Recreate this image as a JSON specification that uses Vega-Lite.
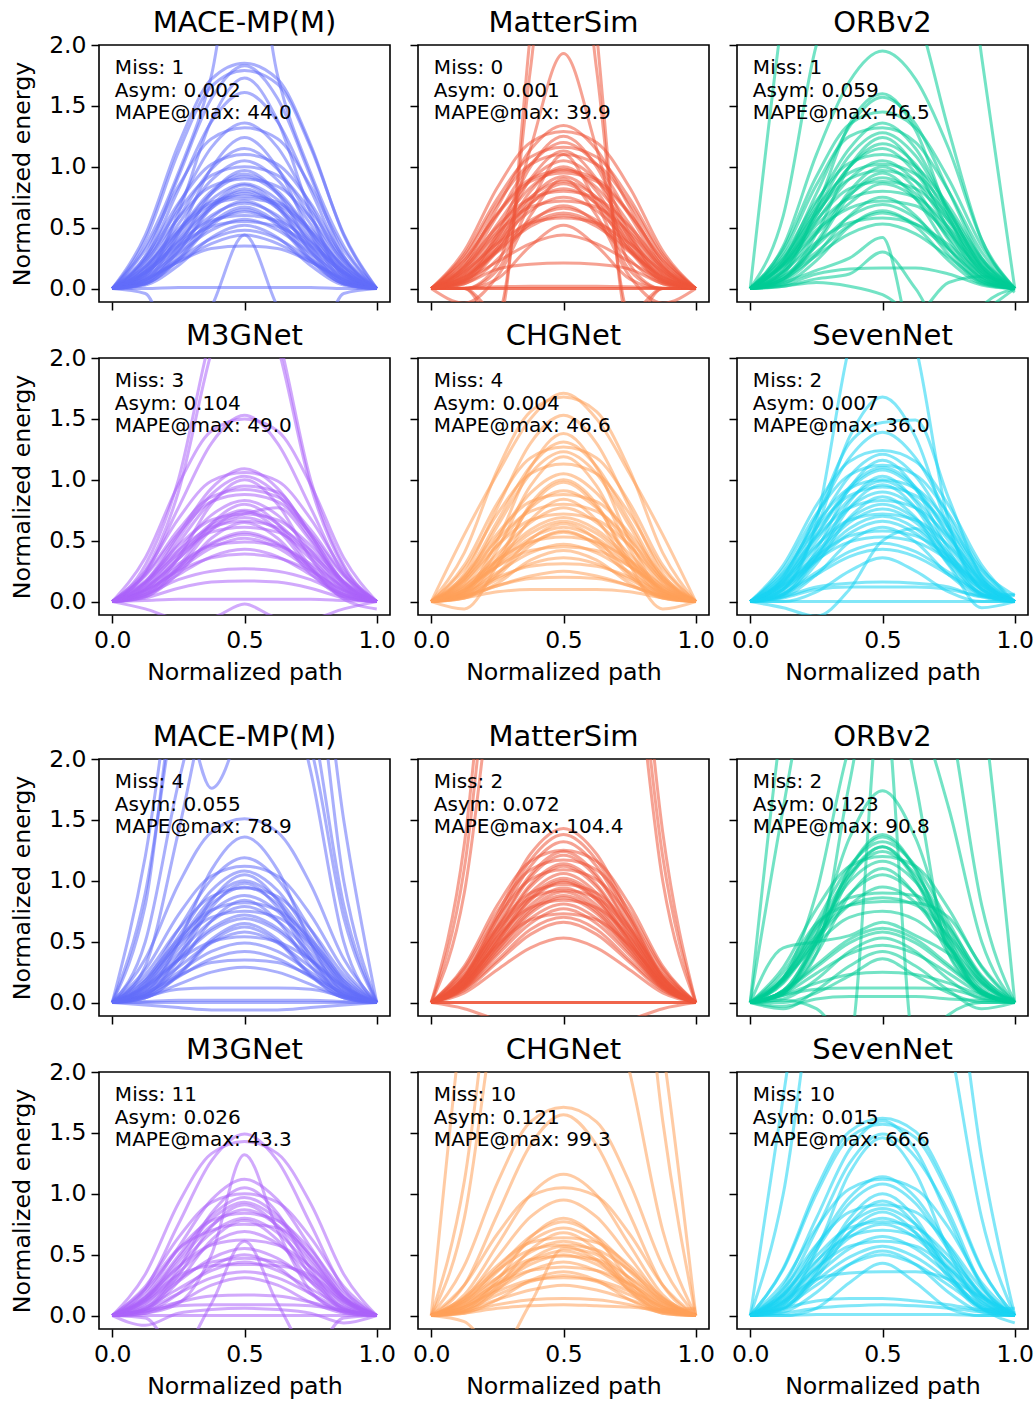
{
"$schema":"https://vega.github.io/schema/vega-lite/v6.json",
"background":"white",
"padding":{"left":9,"top":8,"right":0,"bottom":0},
"datasets":{
"xs":[{"k":"a","x":0},{"k":"b","x":0.125},{"k":"c","x":0.25},{"k":"d","x":0.375},{"k":"e","x":0.5},{"k":"f","x":0.625},{"k":"g","x":0.75},{"k":"h","x":0.875},{"k":"i","x":1}],
"ann":[
{"p":1,"t":"Miss: 1\nAsym: 0.002\nMAPE@max: 44.0"},
{"p":2,"t":"Miss: 0\nAsym: 0.001\nMAPE@max: 39.9"},
{"p":3,"t":"Miss: 1\nAsym: 0.059\nMAPE@max: 46.5"},
{"p":4,"t":"Miss: 3\nAsym: 0.104\nMAPE@max: 49.0"},
{"p":5,"t":"Miss: 4\nAsym: 0.004\nMAPE@max: 46.6"},
{"p":6,"t":"Miss: 2\nAsym: 0.007\nMAPE@max: 36.0"},
{"p":7,"t":"Miss: 4\nAsym: 0.055\nMAPE@max: 78.9"},
{"p":8,"t":"Miss: 2\nAsym: 0.072\nMAPE@max: 104.4"},
{"p":9,"t":"Miss: 2\nAsym: 0.123\nMAPE@max: 90.8"},
{"p":10,"t":"Miss: 11\nAsym: 0.026\nMAPE@max: 43.3"},
{"p":11,"t":"Miss: 10\nAsym: 0.121\nMAPE@max: 99.3"},
{"p":12,"t":"Miss: 10\nAsym: 0.015\nMAPE@max: 66.6"}
],
"curves":[
{"p":1,"id":1,"a":0,"b":0.44,"c":1.18,"d":1.72,"e":1.85,"f":1.72,"g":1.18,"h":0.44,"i":0},
{"p":1,"id":2,"a":0,"b":0.27,"c":0.92,"d":1.56,"e":1.83,"f":1.56,"g":0.92,"h":0.27,"i":0},
{"p":1,"id":3,"a":0,"b":0.40,"c":1.12,"d":1.66,"e":1.79,"f":1.68,"g":1.16,"h":0.45,"i":0},
{"p":1,"id":4,"a":0,"b":0.10,"c":0.62,"d":1.38,"e":1.73,"f":1.38,"g":0.62,"h":0.10,"i":0},
{"p":1,"id":5,"a":0,"b":0.24,"c":0.81,"d":1.37,"e":1.61,"f":1.37,"g":0.81,"h":0.24,"i":0},
{"p":1,"id":6,"a":0,"b":0.20,"c":0.68,"d":1.16,"e":1.36,"f":1.16,"g":0.68,"h":0.20,"i":0},
{"p":1,"id":7,"a":0,"b":0.32,"c":0.84,"d":1.23,"e":1.32,"f":1.23,"g":0.84,"h":0.32,"i":0},
{"p":1,"id":8,"a":0,"b":0.07,"c":0.45,"d":0.99,"e":1.24,"f":0.99,"g":0.45,"h":0.07,"i":0},
{"p":1,"id":9,"a":0,"b":0.16,"c":0.53,"d":0.89,"e":1.05,"f":0.89,"g":0.53,"h":0.16,"i":0},
{"p":1,"id":10,"a":0,"b":0.24,"c":0.64,"d":0.93,"e":1.00,"f":0.93,"g":0.64,"h":0.24,"i":0},
{"p":1,"id":11,"a":0,"b":0.06,"c":0.35,"d":0.78,"e":0.97,"f":0.78,"g":0.35,"h":0.06,"i":0},
{"p":1,"id":12,"a":0,"b":0.14,"c":0.47,"d":0.80,"e":0.94,"f":0.80,"g":0.47,"h":0.14,"i":0},
{"p":1,"id":13,"a":0,"b":0.22,"c":0.58,"d":0.84,"e":0.90,"f":0.84,"g":0.58,"h":0.22,"i":0},
{"p":1,"id":14,"a":0,"b":0.13,"c":0.43,"d":0.73,"e":0.86,"f":0.73,"g":0.43,"h":0.13,"i":0},
{"p":1,"id":15,"a":0,"b":0.05,"c":0.30,"d":0.66,"e":0.82,"f":0.66,"g":0.30,"h":0.05,"i":0},
{"p":1,"id":16,"a":0,"b":0.12,"c":0.39,"d":0.66,"e":0.78,"f":0.66,"g":0.39,"h":0.12,"i":0},
{"p":1,"id":17,"a":0,"b":0.18,"c":0.47,"d":0.69,"e":0.74,"f":0.69,"g":0.47,"h":0.18,"i":0},
{"p":1,"id":18,"a":0,"b":0.11,"c":0.35,"d":0.60,"e":0.70,"f":0.60,"g":0.35,"h":0.11,"i":0},
{"p":1,"id":19,"a":0,"b":0.04,"c":0.24,"d":0.54,"e":0.67,"f":0.54,"g":0.24,"h":0.04,"i":0},
{"p":1,"id":20,"a":0,"b":0.09,"c":0.32,"d":0.54,"e":0.63,"f":0.54,"g":0.32,"h":0.09,"i":0},
{"p":1,"id":21,"a":0,"b":0.14,"c":0.38,"d":0.56,"e":0.60,"f":0.56,"g":0.38,"h":0.14,"i":0},
{"p":1,"id":22,"a":0,"b":0.09,"c":0.29,"d":0.48,"e":0.57,"f":0.48,"g":0.29,"h":0.09,"i":0},
{"p":1,"id":23,"a":0,"b":0.03,"c":0.19,"d":0.42,"e":0.52,"f":0.42,"g":0.19,"h":0.03,"i":0},
{"p":1,"id":24,"a":0,"b":0.07,"c":0.24,"d":0.41,"e":0.48,"f":0.41,"g":0.24,"h":0.07,"i":0},
{"p":1,"id":25,"a":0,"b":0.07,"c":0.22,"d":0.37,"e":0.44,"f":0.37,"g":0.22,"h":0.07,"i":0},
{"p":1,"id":26,"a":0,"b":0.08,"c":0.22,"d":0.33,"e":0.35,"f":0.33,"g":0.22,"h":0.08,"i":0},
{"p":1,"id":27,"a":0,"b":0.00,"c":0.01,"d":0.01,"e":0.01,"f":0.01,"g":0.01,"h":0.00,"i":0},
{"p":1,"id":28,"a":0,"b":0.35,"c":0.95,"d":1.75,"e":3.2,"f":1.75,"g":0.95,"h":0.35,"i":0},
{"p":1,"id":29,"a":0,"b":-0.04,"c":-0.6,"d":-0.15,"e":0.44,"f":-0.15,"g":-0.6,"h":-0.04,"i":0},
{"p":1,"id":30,"a":0,"b":0.12,"c":0.40,"d":0.68,"e":0.80,"f":0.68,"g":0.40,"h":0.12,"i":0},
{"p":1,"id":31,"a":0,"b":0.04,"c":0.26,"d":0.58,"e":0.72,"f":0.58,"g":0.26,"h":0.04,"i":0},
{"p":1,"id":32,"a":0,"b":0.17,"c":0.58,"d":0.98,"e":1.15,"f":0.98,"g":0.58,"h":0.17,"i":0},
{"p":1,"id":33,"a":0,"b":0.14,"c":0.46,"d":0.78,"e":0.92,"f":0.78,"g":0.46,"h":0.14,"i":0},
{"p":1,"id":34,"a":0,"b":0.18,"c":0.49,"d":0.71,"e":0.76,"f":0.71,"g":0.49,"h":0.18,"i":0},
{"p":1,"id":35,"a":0,"b":0.04,"c":0.23,"d":0.52,"e":0.65,"f":0.52,"g":0.23,"h":0.04,"i":0},
{"p":1,"id":36,"a":0,"b":0.13,"c":0.35,"d":0.51,"e":0.55,"f":0.51,"g":0.35,"h":0.13,"i":0},
{"p":1,"id":37,"a":0,"b":0.05,"c":0.31,"d":0.68,"e":0.85,"f":0.68,"g":0.31,"h":0.05,"i":0},
{"p":1,"id":38,"a":0,"b":0.26,"c":0.70,"d":1.02,"e":1.10,"f":1.02,"g":0.70,"h":0.26,"i":0},

{"p":2,"id":1,"a":0,"b":0,"c":-0.3,"d":2.1,"e":5,"f":2.1,"g":-0.3,"h":0,"i":0},
{"p":2,"id":2,"a":0,"b":0,"c":-0.2,"d":1.8,"e":4,"f":1.8,"g":-0.2,"h":0,"i":0},
{"p":2,"id":3,"a":0,"b":0,"c":0.2,"d":1.15,"e":1.93,"f":1.15,"g":0.2,"h":0,"i":0},
{"p":2,"id":4,"a":0,"b":0.20,"c":0.67,"d":1.14,"e":1.34,"f":1.14,"g":0.67,"h":0.20,"i":0},
{"p":2,"id":5,"a":0,"b":0.31,"c":0.83,"d":1.20,"e":1.29,"f":1.20,"g":0.83,"h":0.31,"i":0},
{"p":2,"id":6,"a":0,"b":0.18,"c":0.60,"d":1.02,"e":1.20,"f":1.02,"g":0.60,"h":0.18,"i":0},
{"p":2,"id":7,"a":0,"b":0.07,"c":0.41,"d":0.90,"e":1.13,"f":0.90,"g":0.41,"h":0.07,"i":0},
{"p":2,"id":8,"a":0,"b":0.26,"c":0.70,"d":1.02,"e":1.10,"f":1.02,"g":0.70,"h":0.26,"i":0},
{"p":2,"id":9,"a":0,"b":0,"c":0.15,"d":0.70,"e":1.10,"f":0.70,"g":0.15,"h":0,"i":0},
{"p":2,"id":10,"a":0,"b":0.15,"c":0.49,"d":0.83,"e":0.98,"f":0.83,"g":0.49,"h":0.15,"i":0},
{"p":2,"id":11,"a":0,"b":0.23,"c":0.62,"d":0.90,"e":0.97,"f":0.90,"g":0.62,"h":0.23,"i":0},
{"p":2,"id":12,"a":0,"b":0.13,"c":0.44,"d":0.75,"e":0.88,"f":0.75,"g":0.44,"h":0.13,"i":0},
{"p":2,"id":13,"a":0,"b":0.05,"c":0.31,"d":0.69,"e":0.86,"f":0.69,"g":0.31,"h":0.05,"i":0},
{"p":2,"id":14,"a":0,"b":0.19,"c":0.51,"d":0.74,"e":0.80,"f":0.74,"g":0.51,"h":0.19,"i":0},
{"p":2,"id":15,"a":0,"b":0.11,"c":0.38,"d":0.64,"e":0.75,"f":0.64,"g":0.38,"h":0.11,"i":0},
{"p":2,"id":16,"a":0,"b":0.04,"c":0.24,"d":0.54,"e":0.68,"f":0.54,"g":0.24,"h":0.04,"i":0},
{"p":2,"id":17,"a":0,"b":0.10,"c":0.33,"d":0.56,"e":0.66,"f":0.56,"g":0.33,"h":0.10,"i":0},
{"p":2,"id":18,"a":0,"b":0.14,"c":0.37,"d":0.54,"e":0.58,"f":0.54,"g":0.37,"h":0.14,"i":0},
{"p":2,"id":19,"a":0,"b":0,"c":0.08,"d":0.35,"e":0.52,"f":0.35,"g":0.08,"h":0,"i":0},
{"p":2,"id":20,"a":0,"b":0.07,"c":0.22,"d":0.37,"e":0.44,"f":0.37,"g":0.22,"h":0.07,"i":0},
{"p":2,"id":21,"a":0,"b":0.04,"c":0.16,"d":0.20,"e":0.21,"f":0.20,"g":0.16,"h":0.04,"i":0},
{"p":2,"id":22,"a":0,"b":0.005,"c":0.015,"d":0.02,"e":0.02,"f":0.02,"g":0.015,"h":0.005,"i":0},
{"p":2,"id":23,"a":0,"b":0,"c":0,"d":0,"e":0,"f":0,"g":0,"h":0,"i":0},
{"p":2,"id":24,"a":0,"b":0,"c":0,"d":0,"e":0,"f":0,"g":0,"h":0,"i":0},
{"p":2,"id":25,"a":0,"b":0.16,"c":0.53,"d":0.89,"e":1.05,"f":0.89,"g":0.53,"h":0.16,"i":0},
{"p":2,"id":26,"a":0,"b":0.06,"c":0.33,"d":0.74,"e":0.92,"f":0.74,"g":0.33,"h":0.06,"i":0},
{"p":2,"id":27,"a":0,"b":0.28,"c":0.74,"d":1.08,"e":1.16,"f":1.08,"g":0.74,"h":0.28,"i":0},
{"p":2,"id":28,"a":0,"b":0.09,"c":0.31,"d":0.53,"e":0.62,"f":0.53,"g":0.31,"h":0.09,"i":0},
{"p":2,"id":29,"a":0,"b":-0.12,"c":0.1,"d":0.6,"e":0.9,"f":0.6,"g":0.1,"h":-0.12,"i":0},
{"p":2,"id":30,"a":0,"b":0.06,"c":0.36,"d":0.80,"e":1.0,"f":0.80,"g":0.36,"h":0.06,"i":0},
{"p":2,"id":31,"a":0,"b":0.12,"c":0.41,"d":0.70,"e":0.82,"f":0.70,"g":0.41,"h":0.12,"i":0},
{"p":2,"id":32,"a":0,"b":0.17,"c":0.46,"d":0.67,"e":0.72,"f":0.67,"g":0.46,"h":0.17,"i":0},
{"p":2,"id":33,"a":0,"b":0.08,"c":0.45,"d":1.0,"e":1.25,"f":1.0,"g":0.45,"h":0.08,"i":0},
{"p":2,"id":34,"a":0,"b":0.23,"c":0.61,"d":0.88,"e":0.95,"f":0.88,"g":0.61,"h":0.23,"i":0},
{"p":2,"id":35,"a":0,"b":0.09,"c":0.30,"d":0.51,"e":0.60,"f":0.51,"g":0.30,"h":0.09,"i":0},

{"p":3,"id":1,"a":0,"b":2.3,"c":4,"d":5,"e":5,"f":5,"g":4,"h":1.9,"i":0},
{"p":3,"id":2,"a":0,"b":0.6,"c":2.0,"d":2.6,"e":2.7,"f":2.3,"g":1.3,"h":0.4,"i":0},
{"p":3,"id":3,"a":0,"b":0.35,"c":1.1,"d":1.7,"e":1.95,"f":1.72,"g":1.15,"h":0.4,"i":0},
{"p":3,"id":4,"a":0,"b":0.12,"c":0.65,"d":1.35,"e":1.60,"f":1.30,"g":0.60,"h":0.12,"i":0},
{"p":3,"id":5,"a":0,"b":0.23,"c":0.78,"d":1.33,"e":1.57,"f":1.35,"g":0.80,"h":0.25,"i":0},
{"p":3,"id":6,"a":0,"b":0.22,"c":0.70,"d":1.15,"e":1.36,"f":1.15,"g":0.65,"h":0.18,"i":0},
{"p":3,"id":7,"a":0,"b":0.30,"c":0.85,"d":1.25,"e":1.32,"f":1.20,"g":0.80,"h":0.30,"i":0},
{"p":3,"id":8,"a":0,"b":0.08,"c":0.45,"d":1.0,"e":1.24,"f":1.0,"g":0.48,"h":0.1,"i":0},
{"p":3,"id":9,"a":0,"b":0.20,"c":0.60,"d":1.0,"e":1.19,"f":1.02,"g":0.58,"h":0.16,"i":0},
{"p":3,"id":10,"a":0,"b":0.27,"c":0.72,"d":1.03,"e":1.10,"f":1.0,"g":0.68,"h":0.25,"i":0},
{"p":3,"id":11,"a":0,"b":0.15,"c":0.55,"d":0.90,"e":1.05,"f":0.88,"g":0.50,"h":0.14,"i":0},
{"p":3,"id":12,"a":0,"b":0.08,"c":0.38,"d":0.80,"e":1.00,"f":0.82,"g":0.40,"h":0.08,"i":0},
{"p":3,"id":13,"a":0,"b":0.24,"c":0.62,"d":0.90,"e":0.97,"f":0.88,"g":0.60,"h":0.22,"i":0},
{"p":3,"id":14,"a":0,"b":0.13,"c":0.46,"d":0.77,"e":0.91,"f":0.78,"g":0.47,"h":0.15,"i":0},
{"p":3,"id":15,"a":0,"b":0.18,"c":0.45,"d":0.70,"e":0.86,"f":0.74,"g":0.42,"h":0.12,"i":0},
{"p":3,"id":16,"a":0,"b":0.20,"c":0.52,"d":0.74,"e":0.80,"f":0.75,"g":0.50,"h":0.18,"i":0},
{"p":3,"id":17,"a":0,"b":0.06,"c":0.28,"d":0.60,"e":0.75,"f":0.60,"g":0.28,"h":0.05,"i":0},
{"p":3,"id":18,"a":0,"b":0.10,"c":0.35,"d":0.59,"e":0.69,"f":0.58,"g":0.33,"h":0.09,"i":0},
{"p":3,"id":19,"a":0,"b":0.14,"c":0.38,"d":0.54,"e":0.58,"f":0.53,"g":0.36,"h":0.12,"i":0},
{"p":3,"id":20,"a":0,"b":0.08,"c":0.27,"d":0.45,"e":0.53,"f":0.45,"g":0.26,"h":0.06,"i":0},
{"p":3,"id":21,"a":0,"b":0.05,"c":0.15,"d":0.25,"e":0.42,"f":-0.5,"g":-0.6,"h":-0.15,"i":0},
{"p":3,"id":22,"a":0,"b":0.02,"c":0.08,"d":0.12,"e":0.30,"f":0.0,"g":-0.4,"h":-0.2,"i":0},
{"p":3,"id":23,"a":0,"b":0.03,"c":0.12,"d":0.16,"e":0.17,"f":0.17,"g":0.12,"h":0.03,"i":0},
{"p":3,"id":24,"a":0,"b":0.02,"c":0.05,"d":0.02,"e":-0.05,"f":-0.2,"g":0.05,"h":0.1,"i":0},
{"p":3,"id":25,"a":0,"b":0.19,"c":0.64,"d":1.09,"e":1.28,"f":1.09,"g":0.64,"h":0.19,"i":0},
{"p":3,"id":26,"a":0,"b":0.04,"c":0.23,"d":0.51,"e":0.64,"f":0.51,"g":0.23,"h":0.04,"i":0},
{"p":3,"id":27,"a":0,"b":0.21,"c":0.56,"d":0.82,"e":0.88,"f":0.82,"g":0.56,"h":0.21,"i":-0.03},
{"p":3,"id":28,"a":0,"b":0.15,"c":0.60,"d":1.0,"e":1.15,"f":0.95,"g":0.55,"h":0.18,"i":0},
{"p":3,"id":29,"a":0,"b":0.07,"c":0.36,"d":0.76,"e":0.95,"f":0.74,"g":0.33,"h":0.06,"i":0},
{"p":3,"id":30,"a":0,"b":0.19,"c":0.48,"d":0.66,"e":0.72,"f":0.68,"g":0.45,"h":0.15,"i":0},
{"p":3,"id":31,"a":0,"b":0.33,"c":0.92,"d":1.35,"e":1.45,"f":1.32,"g":0.90,"h":0.35,"i":0},
{"p":3,"id":32,"a":0,"b":0.10,"c":0.30,"d":0.52,"e":0.62,"f":0.53,"g":0.32,"h":0.08,"i":0},
{"p":3,"id":33,"a":0,"b":0.25,"c":0.66,"d":0.95,"e":1.02,"f":0.94,"g":0.64,"h":0.24,"i":0},

{"p":4,"id":1,"a":0,"b":0.30,"c":1.0,"d":2.2,"e":2.9,"f":2.2,"g":1.0,"h":0.30,"i":0},
{"p":4,"id":2,"a":0,"b":0.25,"c":0.9,"d":2.05,"e":2.8,"f":2.1,"g":0.95,"h":0.28,"i":0},
{"p":4,"id":3,"a":0,"b":0.23,"c":0.77,"d":1.30,"e":1.53,"f":1.30,"g":0.77,"h":0.23,"i":0},
{"p":4,"id":4,"a":0,"b":0.36,"c":0.96,"d":1.40,"e":1.50,"f":1.40,"g":0.96,"h":0.36,"i":0},
{"p":4,"id":5,"a":0,"b":0.16,"c":0.55,"d":0.93,"e":1.09,"f":0.93,"g":0.55,"h":0.16,"i":0},
{"p":4,"id":6,"a":0,"b":0.25,"c":0.68,"d":0.99,"e":1.06,"f":0.99,"g":0.68,"h":0.25,"i":0},
{"p":4,"id":7,"a":0,"b":0.14,"c":0.48,"d":0.82,"e":0.95,"f":0.90,"g":0.55,"h":0.16,"i":0},
{"p":4,"id":8,"a":0,"b":0.22,"c":0.59,"d":0.86,"e":0.92,"f":0.86,"g":0.59,"h":0.22,"i":0},
{"p":4,"id":9,"a":0,"b":0.10,"c":0.35,"d":0.62,"e":0.72,"f":0.77,"g":0.50,"h":0.14,"i":0},
{"p":4,"id":10,"a":0,"b":0.11,"c":0.38,"d":0.64,"e":0.75,"f":0.64,"g":0.38,"h":0.11,"i":0},
{"p":4,"id":11,"a":0,"b":0.04,"c":0.27,"d":0.59,"e":0.74,"f":0.59,"g":0.27,"h":0.04,"i":0},
{"p":4,"id":12,"a":0,"b":0.17,"c":0.46,"d":0.67,"e":0.72,"f":0.67,"g":0.46,"h":0.17,"i":0},
{"p":4,"id":13,"a":0,"b":0.10,"c":0.35,"d":0.59,"e":0.69,"f":0.59,"g":0.35,"h":0.10,"i":0},
{"p":4,"id":14,"a":0,"b":0.15,"c":0.39,"d":0.57,"e":0.61,"f":0.57,"g":0.39,"h":0.15,"i":0},
{"p":4,"id":15,"a":0,"b":0.09,"c":0.29,"d":0.48,"e":0.57,"f":0.48,"g":0.29,"h":0.09,"i":0},
{"p":4,"id":16,"a":0,"b":0.12,"c":0.31,"d":0.46,"e":0.49,"f":0.46,"g":0.31,"h":0.12,"i":0},
{"p":4,"id":17,"a":0,"b":0.06,"c":0.22,"d":0.37,"e":0.43,"f":0.37,"g":0.22,"h":0.06,"i":0},
{"p":4,"id":18,"a":0,"b":0.09,"c":0.25,"d":0.36,"e":0.39,"f":0.36,"g":0.25,"h":0.09,"i":0},
{"p":4,"id":19,"a":0,"b":0.06,"c":0.18,"d":0.25,"e":0.27,"f":0.25,"g":0.18,"h":0.06,"i":0},
{"p":4,"id":20,"a":0,"b":0.03,"c":0.11,"d":0.16,"e":0.17,"f":0.16,"g":0.11,"h":0.03,"i":0},
{"p":4,"id":21,"a":0,"b":0.01,"c":0.02,"d":0.02,"e":0.02,"f":0.02,"g":0.02,"h":0.01,"i":0},
{"p":4,"id":22,"a":0,"b":-0.06,"c":-0.14,"d":-0.13,"e":-0.02,"f":-0.13,"g":-0.14,"h":-0.06,"i":0},
{"p":4,"id":23,"a":0,"b":0.12,"c":0.42,"d":0.71,"e":0.83,"f":0.71,"g":0.42,"h":0.12,"i":0},
{"p":4,"id":24,"a":0,"b":0.04,"c":0.23,"d":0.52,"e":0.65,"f":0.52,"g":0.23,"h":0.04,"i":0},
{"p":4,"id":25,"a":0,"b":0.06,"c":0.36,"d":0.80,"e":1.0,"f":0.8,"g":0.36,"h":0.06,"i":0},
{"p":4,"id":26,"a":0,"b":0.08,"c":0.27,"d":0.47,"e":0.55,"f":0.47,"g":0.27,"h":0.02,"i":-0.06},
{"p":4,"id":27,"a":0,"b":0.05,"c":0.29,"d":0.64,"e":0.80,"f":0.64,"g":0.29,"h":0.05,"i":0},
{"p":4,"id":28,"a":0,"b":0.16,"c":0.42,"d":0.61,"e":0.66,"f":0.61,"g":0.42,"h":0.16,"i":0},
{"p":4,"id":29,"a":0,"b":0.08,"c":0.26,"d":0.44,"e":0.52,"f":0.44,"g":0.26,"h":0.08,"i":0},
{"p":4,"id":30,"a":0,"b":0.15,"c":0.52,"d":0.88,"e":1.03,"f":0.88,"g":0.52,"h":0.15,"i":0},
{"p":4,"id":31,"a":0,"b":0.21,"c":0.56,"d":0.82,"e":0.88,"f":0.82,"g":0.56,"h":0.21,"i":0},

{"p":5,"id":1,"a":0,"b":0.55,"c":1.05,"d":1.50,"e":1.71,"f":1.50,"g":1.05,"h":0.55,"i":0},
{"p":5,"id":2,"a":0,"b":0.40,"c":1.08,"d":1.56,"e":1.68,"f":1.56,"g":1.08,"h":0.40,"i":0},
{"p":5,"id":3,"a":0,"b":0.23,"c":0.77,"d":1.30,"e":1.53,"f":1.30,"g":0.77,"h":0.23,"i":0},
{"p":5,"id":4,"a":0,"b":0.08,"c":0.50,"d":1.10,"e":1.38,"f":1.10,"g":0.50,"h":0.08,"i":0},
{"p":5,"id":5,"a":0,"b":0.20,"c":0.66,"d":1.11,"e":1.31,"f":1.11,"g":0.66,"h":0.20,"i":0},
{"p":5,"id":6,"a":0,"b":0.30,"c":0.81,"d":1.18,"e":1.27,"f":1.18,"g":0.81,"h":0.30,"i":0},
{"p":5,"id":7,"a":0,"b":0.18,"c":0.62,"d":1.05,"e":1.23,"f":1.05,"g":0.62,"h":0.18,"i":0},
{"p":5,"id":8,"a":0,"b":0.07,"c":0.43,"d":0.95,"e":1.19,"f":0.95,"g":0.43,"h":0.07,"i":0},
{"p":5,"id":9,"a":0,"b":0.27,"c":0.72,"d":1.05,"e":1.13,"f":1.05,"g":0.72,"h":0.27,"i":0},
{"p":5,"id":10,"a":0,"b":0.14,"c":0.46,"d":0.77,"e":0.91,"f":0.77,"g":0.46,"h":0.14,"i":0},
{"p":5,"id":11,"a":0,"b":0.21,"c":0.56,"d":0.82,"e":0.88,"f":0.82,"g":0.56,"h":0.21,"i":0},
{"p":5,"id":12,"a":0,"b":0.05,"c":0.30,"d":0.67,"e":0.84,"f":0.67,"g":0.30,"h":0.05,"i":0},
{"p":5,"id":13,"a":0,"b":0.12,"c":0.39,"d":0.65,"e":0.77,"f":0.65,"g":0.39,"h":0.12,"i":0},
{"p":5,"id":14,"a":0,"b":0.17,"c":0.46,"d":0.67,"e":0.72,"f":0.67,"g":0.46,"h":0.17,"i":0},
{"p":5,"id":15,"a":0,"b":0.10,"c":0.35,"d":0.59,"e":0.69,"f":0.59,"g":0.35,"h":0.10,"i":0},
{"p":5,"id":16,"a":0,"b":0.04,"c":0.23,"d":0.51,"e":0.64,"f":0.51,"g":0.23,"h":0.04,"i":0},
{"p":5,"id":17,"a":0,"b":0.09,"c":0.29,"d":0.48,"e":0.57,"f":0.48,"g":0.29,"h":0.09,"i":0},
{"p":5,"id":18,"a":0,"b":0.13,"c":0.34,"d":0.49,"e":0.53,"f":0.49,"g":0.34,"h":0.13,"i":0},
{"p":5,"id":19,"a":0,"b":0.07,"c":0.24,"d":0.40,"e":0.47,"f":0.40,"g":0.24,"h":0.07,"i":0},
{"p":5,"id":20,"a":0,"b":0.03,"c":0.15,"d":0.34,"e":0.42,"f":0.34,"g":0.15,"h":0.03,"i":0},
{"p":5,"id":21,"a":0,"b":0.05,"c":0.18,"d":0.31,"e":0.36,"f":0.31,"g":0.18,"h":0.05,"i":0},
{"p":5,"id":22,"a":0,"b":0.07,"c":0.20,"d":0.29,"e":0.31,"f":0.29,"g":0.20,"h":0.07,"i":0},
{"p":5,"id":23,"a":0,"b":0.04,"c":0.13,"d":0.21,"e":0.25,"f":0.21,"g":0.13,"h":0.04,"i":0},
{"p":5,"id":24,"a":0,"b":0.05,"c":0.13,"d":0.19,"e":0.20,"f":0.19,"g":0.13,"h":0.05,"i":0},
{"p":5,"id":25,"a":0,"b":0.03,"c":0.08,"d":0.10,"e":0.10,"f":0.10,"g":0.08,"h":0.03,"i":0},
{"p":5,"id":26,"a":0,"b":-0.06,"c":0.3,"d":0.8,"e":1.0,"f":0.8,"g":0.3,"h":-0.06,"i":0},
{"p":5,"id":27,"a":0,"b":0.09,"c":0.31,"d":0.52,"e":0.61,"f":0.52,"g":0.31,"h":0.09,"i":0},
{"p":5,"id":28,"a":0,"b":0.06,"c":0.35,"d":0.78,"e":0.98,"f":0.78,"g":0.35,"h":0.06,"i":0},
{"p":5,"id":29,"a":0,"b":0.19,"c":0.51,"d":0.74,"e":0.80,"f":0.74,"g":0.51,"h":0.19,"i":0},
{"p":5,"id":30,"a":0,"b":0.10,"c":0.33,"d":0.56,"e":0.66,"f":0.56,"g":0.33,"h":0.10,"i":0},
{"p":5,"id":31,"a":0,"b":0.16,"c":0.53,"d":0.89,"e":1.05,"f":0.89,"g":0.53,"h":0.16,"i":0},
{"p":5,"id":32,"a":0,"b":0.11,"c":0.29,"d":0.42,"e":0.45,"f":0.42,"g":0.29,"h":0.11,"i":0},
{"p":5,"id":33,"a":0,"b":0.03,"c":0.21,"d":0.46,"e":0.58,"f":0.46,"g":0.21,"h":0.03,"i":0},

{"p":6,"id":1,"a":0,"b":0.1,"c":0.65,"d":2.1,"e":2.8,"f":2.1,"g":0.65,"h":0.1,"i":0},
{"p":6,"id":2,"a":0,"b":0.10,"c":0.60,"d":1.35,"e":1.68,"f":1.35,"g":0.60,"h":0.10,"i":0},
{"p":6,"id":3,"a":0,"b":0.20,"c":0.70,"d":1.30,"e":1.47,"f":1.49,"g":0.85,"h":0.20,"i":0},
{"p":6,"id":4,"a":0,"b":0.21,"c":0.70,"d":1.18,"e":1.39,"f":1.18,"g":0.70,"h":0.21,"i":0},
{"p":6,"id":5,"a":0,"b":0.30,"c":0.79,"d":1.15,"e":1.24,"f":1.15,"g":0.79,"h":0.30,"i":0},
{"p":6,"id":6,"a":0,"b":0.18,"c":0.61,"d":1.03,"e":1.21,"f":1.03,"g":0.61,"h":0.18,"i":0},
{"p":6,"id":7,"a":0,"b":0.07,"c":0.42,"d":0.93,"e":1.16,"f":0.93,"g":0.42,"h":0.07,"i":0},
{"p":6,"id":8,"a":0,"b":0.27,"c":0.72,"d":1.04,"e":1.12,"f":1.04,"g":0.72,"h":0.27,"i":0},
{"p":6,"id":9,"a":0,"b":0.16,"c":0.54,"d":0.92,"e":1.08,"f":0.92,"g":0.54,"h":0.16,"i":0},
{"p":6,"id":10,"a":0,"b":0.06,"c":0.37,"d":0.82,"e":1.03,"f":0.82,"g":0.37,"h":0.06,"i":0},
{"p":6,"id":11,"a":0,"b":0.15,"c":0.50,"d":0.84,"e":0.99,"f":0.84,"g":0.50,"h":0.15,"i":0},
{"p":6,"id":12,"a":0,"b":0.23,"c":0.60,"d":0.87,"e":0.94,"f":0.87,"g":0.60,"h":0.23,"i":0},
{"p":6,"id":13,"a":0,"b":0.14,"c":0.45,"d":0.77,"e":0.90,"f":0.77,"g":0.45,"h":0.14,"i":0},
{"p":6,"id":14,"a":0,"b":0.05,"c":0.31,"d":0.69,"e":0.86,"f":0.69,"g":0.31,"h":0.05,"i":0},
{"p":6,"id":15,"a":0,"b":0.12,"c":0.40,"d":0.68,"e":0.80,"f":0.68,"g":0.40,"h":0.12,"i":0},
{"p":6,"id":16,"a":0,"b":0.17,"c":0.46,"d":0.67,"e":0.72,"f":0.67,"g":0.46,"h":0.17,"i":0},
{"p":6,"id":17,"a":0,"b":0.10,"c":0.33,"d":0.56,"e":0.66,"f":0.56,"g":0.33,"h":0.10,"i":0},
{"p":6,"id":18,"a":0,"b":0.04,"c":0.22,"d":0.49,"e":0.61,"f":0.49,"g":0.22,"h":0.04,"i":0},
{"p":6,"id":19,"a":0,"b":0.13,"c":0.34,"d":0.49,"e":0.53,"f":0.49,"g":0.34,"h":0.13,"i":0},
{"p":6,"id":20,"a":0,"b":0.06,"c":0.22,"d":0.37,"e":0.43,"f":0.37,"g":0.22,"h":0.06,"i":0},
{"p":6,"id":21,"a":0,"b":0,"c":0.08,"d":0.25,"e":0.36,"f":0.25,"g":0.08,"h":0,"i":0},
{"p":6,"id":22,"a":0,"b":0.04,"c":0.12,"d":0.15,"e":0.16,"f":0.15,"g":0.12,"h":0.04,"i":0.05},
{"p":6,"id":23,"a":0,"b":0.03,"c":0.10,"d":0.12,"e":0.12,"f":0.12,"g":0.10,"h":0.05,"i":0.06},
{"p":6,"id":24,"a":0,"b":0,"c":0,"d":0,"e":0,"f":0,"g":0,"h":0,"i":0},
{"p":6,"id":25,"a":0,"b":-0.05,"c":-0.12,"d":0.1,"e":0.5,"f":0.6,"g":0.3,"h":-0.05,"i":0},
{"p":6,"id":26,"a":0,"b":0.11,"c":0.38,"d":0.65,"e":0.76,"f":0.65,"g":0.38,"h":0.11,"i":0},
{"p":6,"id":27,"a":0,"b":0.24,"c":0.64,"d":0.93,"e":1.0,"f":0.93,"g":0.64,"h":0.26,"i":0.05},
{"p":6,"id":28,"a":0,"b":0.06,"c":0.35,"d":0.77,"e":0.96,"f":0.77,"g":0.35,"h":0.06,"i":0},
{"p":6,"id":29,"a":0,"b":0.20,"c":0.53,"d":0.77,"e":0.83,"f":0.77,"g":0.53,"h":0.20,"i":0},
{"p":6,"id":30,"a":0,"b":0.10,"c":0.35,"d":0.60,"e":0.70,"f":0.60,"g":0.35,"h":0.10,"i":0},
{"p":6,"id":31,"a":0,"b":0.17,"c":0.55,"d":0.94,"e":1.10,"f":0.94,"g":0.55,"h":0.17,"i":0},
{"p":6,"id":32,"a":0,"b":0.14,"c":0.37,"d":0.54,"e":0.58,"f":0.54,"g":0.37,"h":0.14,"i":0},
{"p":6,"id":33,"a":0,"b":0.07,"c":0.24,"d":0.41,"e":0.48,"f":0.41,"g":0.24,"h":0.07,"i":0},

{"p":7,"id":1,"a":0,"b":1.2,"c":3.0,"d":4.0,"e":4.2,"f":4.0,"g":3.5,"h":1.5,"i":0},
{"p":7,"id":2,"a":0,"b":0.9,"c":2.6,"d":3.5,"e":3.8,"f":3.3,"g":2.4,"h":0.8,"i":0},
{"p":7,"id":3,"a":0,"b":0.8,"c":2.5,"d":1.76,"e":2.4,"f":3.5,"g":3.0,"h":1.0,"i":0},
{"p":7,"id":4,"a":0,"b":0.3,"c":1.4,"d":2.6,"e":3.0,"f":2.6,"g":2.1,"h":0.7,"i":0},
{"p":7,"id":5,"a":0,"b":0.5,"c":1.8,"d":2.8,"e":3.4,"f":2.9,"g":1.9,"h":0.5,"i":0},
{"p":7,"id":6,"a":0,"b":0.36,"c":0.97,"d":1.40,"e":1.51,"f":1.40,"g":0.97,"h":0.36,"i":0},
{"p":7,"id":7,"a":0,"b":0.08,"c":0.49,"d":1.09,"e":1.36,"f":1.09,"g":0.49,"h":0.08,"i":0},
{"p":7,"id":8,"a":0,"b":0.18,"c":0.60,"d":1.01,"e":1.19,"f":1.01,"g":0.60,"h":0.18,"i":0},
{"p":7,"id":9,"a":0,"b":0.27,"c":0.72,"d":1.04,"e":1.12,"f":1.04,"g":0.72,"h":0.27,"i":0},
{"p":7,"id":10,"a":0,"b":0.16,"c":0.54,"d":0.92,"e":1.08,"f":0.92,"g":0.54,"h":0.16,"i":0},
{"p":7,"id":11,"a":0,"b":0.15,"c":0.50,"d":0.85,"e":1.00,"f":0.85,"g":0.50,"h":0.15,"i":0},
{"p":7,"id":12,"a":0,"b":0.06,"c":0.35,"d":0.78,"e":0.98,"f":0.78,"g":0.35,"h":0.06,"i":0},
{"p":7,"id":13,"a":0,"b":0.23,"c":0.60,"d":0.87,"e":0.94,"f":0.87,"g":0.60,"h":0.23,"i":0},
{"p":7,"id":14,"a":0,"b":0.13,"c":0.44,"d":0.75,"e":0.88,"f":0.75,"g":0.44,"h":0.13,"i":0},
{"p":7,"id":15,"a":0,"b":0.05,"c":0.30,"d":0.67,"e":0.84,"f":0.67,"g":0.30,"h":0.05,"i":0},
{"p":7,"id":16,"a":0,"b":0.12,"c":0.40,"d":0.67,"e":0.79,"f":0.67,"g":0.40,"h":0.12,"i":0},
{"p":7,"id":17,"a":0,"b":0.18,"c":0.48,"d":0.70,"e":0.75,"f":0.70,"g":0.48,"h":0.18,"i":0},
{"p":7,"id":18,"a":0,"b":0.10,"c":0.35,"d":0.59,"e":0.69,"f":0.59,"g":0.35,"h":0.10,"i":0},
{"p":7,"id":19,"a":0,"b":0.04,"c":0.22,"d":0.50,"e":0.62,"f":0.50,"g":0.22,"h":0.04,"i":0},
{"p":7,"id":20,"a":0,"b":0.09,"c":0.29,"d":0.49,"e":0.58,"f":0.49,"g":0.29,"h":0.09,"i":0},
{"p":7,"id":21,"a":0,"b":0.13,"c":0.35,"d":0.50,"e":0.54,"f":0.50,"g":0.35,"h":0.13,"i":0},
{"p":7,"id":22,"a":0,"b":0.07,"c":0.25,"d":0.42,"e":0.49,"f":0.42,"g":0.25,"h":0.07,"i":0},
{"p":7,"id":23,"a":0,"b":0.06,"c":0.21,"d":0.36,"e":0.42,"f":0.36,"g":0.21,"h":0.06,"i":0},
{"p":7,"id":24,"a":0,"b":0.08,"c":0.22,"d":0.33,"e":0.35,"f":0.33,"g":0.22,"h":0.08,"i":0},
{"p":7,"id":25,"a":0,"b":0.04,"c":0.15,"d":0.25,"e":0.29,"f":0.25,"g":0.15,"h":0.04,"i":0},
{"p":7,"id":26,"a":0,"b":0.05,"c":0.11,"d":0.12,"e":0.12,"f":0.12,"g":0.11,"h":0.05,"i":0},
{"p":7,"id":27,"a":0,"b":0.01,"c":0.02,"d":0.02,"e":0.02,"f":0.02,"g":0.02,"h":0.01,"i":0},
{"p":7,"id":28,"a":0,"b":-0.02,"c":-0.04,"d":-0.06,"e":-0.06,"f":-0.06,"g":-0.04,"h":-0.02,"i":0},
{"p":7,"id":29,"a":0,"b":0,"c":0,"d":0,"e":0,"f":0,"g":0,"h":0,"i":0},
{"p":7,"id":30,"a":0,"b":0.14,"c":0.48,"d":0.81,"e":0.95,"f":0.81,"g":0.48,"h":0.14,"i":0},
{"p":7,"id":31,"a":0,"b":0.20,"c":0.52,"d":0.76,"e":0.82,"f":0.76,"g":0.52,"h":0.20,"i":0},
{"p":7,"id":32,"a":0,"b":0.04,"c":0.23,"d":0.52,"e":0.65,"f":0.52,"g":0.23,"h":0.04,"i":0},
{"p":7,"id":33,"a":0,"b":0.06,"c":0.38,"d":0.84,"e":1.05,"f":0.84,"g":0.38,"h":0.06,"i":0},
{"p":7,"id":34,"a":0,"b":0.11,"c":0.36,"d":0.61,"e":0.72,"f":0.61,"g":0.36,"h":0.11,"i":0},

{"p":8,"id":1,"a":0,"b":1.3,"c":4,"d":6,"e":6.5,"f":6,"g":4,"h":1.4,"i":0},
{"p":8,"id":2,"a":0,"b":1.1,"c":3.5,"d":5,"e":5.5,"f":5,"g":3.5,"h":1.2,"i":0},
{"p":8,"id":3,"a":0,"b":0.9,"c":3.0,"d":4.5,"e":5,"f":4.5,"g":3.2,"h":1.0,"i":0},
{"p":8,"id":4,"a":0,"b":0.21,"c":0.72,"d":1.22,"e":1.43,"f":1.22,"g":0.72,"h":0.21,"i":0},
{"p":8,"id":5,"a":0,"b":0.21,"c":0.69,"d":1.17,"e":1.38,"f":1.17,"g":0.69,"h":0.21,"i":0},
{"p":8,"id":6,"a":0,"b":0.30,"c":0.80,"d":1.16,"e":1.25,"f":1.16,"g":0.80,"h":0.30,"i":0},
{"p":8,"id":7,"a":0,"b":0.19,"c":0.62,"d":1.05,"e":1.24,"f":1.05,"g":0.62,"h":0.19,"i":0},
{"p":8,"id":8,"a":0,"b":0.18,"c":0.61,"d":1.03,"e":1.21,"f":1.03,"g":0.61,"h":0.18,"i":0},
{"p":8,"id":9,"a":0,"b":0.17,"c":0.57,"d":0.97,"e":1.14,"f":0.97,"g":0.57,"h":0.17,"i":0},
{"p":8,"id":10,"a":0,"b":0.26,"c":0.70,"d":1.01,"e":1.09,"f":1.01,"g":0.70,"h":0.26,"i":0},
{"p":8,"id":11,"a":0,"b":0.16,"c":0.53,"d":0.90,"e":1.06,"f":0.90,"g":0.53,"h":0.16,"i":0},
{"p":8,"id":12,"a":0,"b":0.15,"c":0.50,"d":0.84,"e":0.99,"f":0.84,"g":0.50,"h":0.15,"i":0},
{"p":8,"id":13,"a":0,"b":0.23,"c":0.62,"d":0.90,"e":0.97,"f":0.90,"g":0.62,"h":0.23,"i":0},
{"p":8,"id":14,"a":0,"b":0.14,"c":0.46,"d":0.77,"e":0.91,"f":0.77,"g":0.46,"h":0.14,"i":0},
{"p":8,"id":15,"a":0,"b":0.13,"c":0.44,"d":0.75,"e":0.88,"f":0.75,"g":0.44,"h":0.13,"i":0},
{"p":8,"id":16,"a":0,"b":0.20,"c":0.54,"d":0.78,"e":0.84,"f":0.78,"g":0.54,"h":0.20,"i":0},
{"p":8,"id":17,"a":0,"b":0.12,"c":0.41,"d":0.69,"e":0.81,"f":0.69,"g":0.41,"h":0.12,"i":0},
{"p":8,"id":18,"a":0,"b":0.12,"c":0.39,"d":0.65,"e":0.77,"f":0.65,"g":0.39,"h":0.12,"i":0},
{"p":8,"id":19,"a":0,"b":0.18,"c":0.47,"d":0.68,"e":0.73,"f":0.68,"g":0.47,"h":0.18,"i":0},
{"p":8,"id":20,"a":0,"b":0.10,"c":0.33,"d":0.56,"e":0.66,"f":0.56,"g":0.33,"h":0.10,"i":0},
{"p":8,"id":21,"a":0,"b":0.08,"c":0.27,"d":0.45,"e":0.53,"f":0.45,"g":0.27,"h":0.08,"i":0},
{"p":8,"id":22,"a":0,"b":0,"c":0,"d":0,"e":0,"f":0,"g":0,"h":0,"i":0},
{"p":8,"id":23,"a":0,"b":0,"c":0,"d":0,"e":0,"f":0,"g":0,"h":0,"i":0},
{"p":8,"id":24,"a":0,"b":0,"c":0,"d":0,"e":0,"f":0,"g":0,"h":0,"i":0},
{"p":8,"id":25,"a":0,"b":-0.05,"c":-0.14,"d":-0.18,"e":-0.18,"f":-0.18,"g":-0.14,"h":-0.05,"i":0},
{"p":8,"id":26,"a":0,"b":0.15,"c":0.51,"d":0.87,"e":1.02,"f":0.87,"g":0.51,"h":0.15,"i":0},
{"p":8,"id":27,"a":0,"b":0.14,"c":0.47,"d":0.80,"e":0.94,"f":0.80,"g":0.47,"h":0.14,"i":0},
{"p":8,"id":28,"a":0,"b":0.28,"c":0.75,"d":1.09,"e":1.17,"f":1.09,"g":0.75,"h":0.28,"i":0},
{"p":8,"id":29,"a":0,"b":0.20,"c":0.66,"d":1.12,"e":1.32,"f":1.12,"g":0.66,"h":0.20,"i":0},
{"p":8,"id":30,"a":0,"b":0.15,"c":0.50,"d":0.85,"e":1.0,"f":0.85,"g":0.50,"h":0.15,"i":0},
{"p":8,"id":31,"a":0,"b":0.13,"c":0.43,"d":0.73,"e":0.86,"f":0.73,"g":0.43,"h":0.13,"i":0},
{"p":8,"id":32,"a":0,"b":0.17,"c":0.56,"d":0.95,"e":1.12,"f":0.95,"g":0.56,"h":0.17,"i":0},
{"p":8,"id":33,"a":0,"b":0.11,"c":0.35,"d":0.60,"e":0.70,"f":0.60,"g":0.35,"h":0.11,"i":0},
{"p":8,"id":34,"a":0,"b":0.22,"c":0.59,"d":0.86,"e":0.92,"f":0.86,"g":0.59,"h":0.22,"i":0},

{"p":9,"id":1,"a":0,"b":2.4,"c":4,"d":5,"e":5,"f":5,"g":4,"h":2.5,"i":0},
{"p":9,"id":2,"a":0,"b":1.6,"c":3.0,"d":3.5,"e":3.5,"f":3.4,"g":2.4,"h":0.8,"i":0},
{"p":9,"id":3,"a":0,"b":0.1,"c":0.4,"d":1.8,"e":3.0,"f":1.8,"g":0.4,"h":0.1,"i":0},
{"p":9,"id":4,"a":0,"b":0.2,"c":0.9,"d":2.1,"e":2.6,"f":2.4,"g":1.6,"h":0.5,"i":0},
{"p":9,"id":5,"a":0,"b":0.1,"c":0.55,"d":1.35,"e":1.74,"f":1.35,"g":0.55,"h":0.1,"i":0},
{"p":9,"id":6,"a":0,"b":0.08,"c":0.49,"d":1.09,"e":1.36,"f":1.09,"g":0.49,"h":0.08,"i":0},
{"p":9,"id":7,"a":0,"b":0.20,"c":0.66,"d":1.12,"e":1.32,"f":1.12,"g":0.66,"h":0.20,"i":0},
{"p":9,"id":8,"a":0,"b":0.10,"c":0.50,"d":1.05,"e":1.28,"f":1.0,"g":0.45,"h":0.08,"i":0},
{"p":9,"id":9,"a":0,"b":0.19,"c":0.62,"d":1.05,"e":1.24,"f":1.05,"g":0.62,"h":0.19,"i":0},
{"p":9,"id":10,"a":0,"b":0.29,"c":0.77,"d":1.12,"e":1.20,"f":1.12,"g":0.77,"h":0.29,"i":0},
{"p":9,"id":11,"a":0,"b":0.17,"c":0.58,"d":0.99,"e":1.16,"f":0.99,"g":0.58,"h":0.17,"i":0},
{"p":9,"id":12,"a":0,"b":0.07,"c":0.40,"d":0.88,"e":1.10,"f":0.88,"g":0.40,"h":0.07,"i":0},
{"p":9,"id":13,"a":0,"b":0.16,"c":0.53,"d":0.89,"e":1.05,"f":0.89,"g":0.53,"h":0.16,"i":0},
{"p":9,"id":14,"a":0,"b":0.20,"c":0.62,"d":0.86,"e":0.90,"f":0.88,"g":0.62,"h":0.22,"i":0},
{"p":9,"id":15,"a":0,"b":0.21,"c":0.55,"d":0.80,"e":0.86,"f":0.80,"g":0.55,"h":0.21,"i":0},
{"p":9,"id":16,"a":0,"b":0.25,"c":0.65,"d":0.80,"e":0.83,"f":0.82,"g":0.70,"h":0.30,"i":0},
{"p":9,"id":17,"a":0,"b":0.45,"c":0.50,"d":0.55,"e":0.66,"f":0.55,"g":0.40,"h":0.15,"i":0},
{"p":9,"id":18,"a":0,"b":0.09,"c":0.31,"d":0.52,"e":0.61,"f":0.52,"g":0.31,"h":0.09,"i":0},
{"p":9,"id":19,"a":0,"b":0.03,"c":0.19,"d":0.42,"e":0.53,"f":0.42,"g":0.19,"h":0.03,"i":0},
{"p":9,"id":20,"a":0,"b":0.07,"c":0.24,"d":0.40,"e":0.47,"f":0.40,"g":0.24,"h":0.07,"i":0},
{"p":9,"id":21,"a":0,"b":0,"c":0.08,"d":0.22,"e":0.36,"f":0.22,"g":0.08,"h":0,"i":0},
{"p":9,"id":22,"a":0,"b":0.06,"c":0.16,"d":0.23,"e":0.25,"f":0.23,"g":0.16,"h":0.06,"i":0},
{"p":9,"id":23,"a":0,"b":0.06,"c":0.11,"d":0.12,"e":0.12,"f":0.12,"g":0.11,"h":0.04,"i":0},
{"p":9,"id":24,"a":0,"b":0.02,"c":-0.05,"d":-0.3,"e":2.6,"f":-0.4,"g":-0.1,"h":0,"i":0},
{"p":9,"id":25,"a":0,"b":-0.05,"c":0.1,"d":0.3,"e":0.42,"f":0.3,"g":0.1,"h":-0.05,"i":0},
{"p":9,"id":26,"a":0,"b":-0.03,"c":0.03,"d":0.05,"e":0.05,"f":0.05,"g":0.03,"h":0.02,"i":0.03},
{"p":9,"id":27,"a":0,"b":0.08,"c":0.50,"d":1.10,"e":1.38,"f":1.10,"g":0.50,"h":0.08,"i":0},
{"p":9,"id":28,"a":0,"b":0.18,"c":0.52,"d":0.80,"e":0.95,"f":0.82,"g":0.46,"h":0.12,"i":0},
{"p":9,"id":29,"a":0,"b":0.19,"c":0.48,"d":0.70,"e":0.75,"f":0.68,"g":0.46,"h":0.17,"i":0},
{"p":9,"id":30,"a":0,"b":0.08,"c":0.46,"d":1.02,"e":1.28,"f":1.02,"g":0.46,"h":0.08,"i":0},
{"p":9,"id":31,"a":0,"b":0.09,"c":0.29,"d":0.49,"e":0.58,"f":0.49,"g":0.29,"h":0.09,"i":0},

{"p":10,"id":1,"a":0,"b":0.22,"c":0.75,"d":1.27,"e":1.49,"f":1.27,"g":0.75,"h":0.22,"i":0},
{"p":10,"id":2,"a":0,"b":0.34,"c":0.92,"d":1.33,"e":1.43,"f":1.33,"g":0.92,"h":0.34,"i":0},
{"p":10,"id":3,"a":0,"b":0.02,"c":0.1,"d":0.5,"e":1.32,"f":0.7,"g":0.2,"h":0.03,"i":0},
{"p":10,"id":4,"a":0,"b":0.17,"c":0.56,"d":0.95,"e":1.12,"f":0.95,"g":0.56,"h":0.17,"i":0},
{"p":10,"id":5,"a":0,"b":0.24,"c":0.64,"d":0.93,"e":1.00,"f":0.93,"g":0.64,"h":0.24,"i":0},
{"p":10,"id":6,"a":0,"b":0.15,"c":0.49,"d":0.82,"e":0.97,"f":0.82,"g":0.49,"h":0.15,"i":0},
{"p":10,"id":7,"a":0,"b":0.05,"c":0.33,"d":0.73,"e":0.91,"f":0.73,"g":0.33,"h":0.05,"i":0},
{"p":10,"id":8,"a":0,"b":0.13,"c":0.44,"d":0.74,"e":0.87,"f":0.74,"g":0.44,"h":0.13,"i":0},
{"p":10,"id":9,"a":0,"b":0.20,"c":0.54,"d":0.78,"e":0.84,"f":0.78,"g":0.54,"h":0.20,"i":0},
{"p":10,"id":10,"a":0,"b":0.12,"c":0.40,"d":0.68,"e":0.80,"f":0.68,"g":0.40,"h":0.12,"i":0},
{"p":10,"id":11,"a":0,"b":0.22,"c":0.55,"d":0.70,"e":0.75,"f":0.72,"g":0.50,"h":0.15,"i":0},
{"p":10,"id":12,"a":0,"b":0.10,"c":0.35,"d":0.59,"e":0.69,"f":0.59,"g":0.35,"h":0.10,"i":0},
{"p":10,"id":13,"a":0,"b":-0.02,"c":-0.3,"d":0.1,"e":0.61,"f":0.1,"g":-0.3,"h":-0.02,"i":0},
{"p":10,"id":14,"a":0,"b":0.11,"c":0.30,"d":0.44,"e":0.47,"f":0.44,"g":0.30,"h":0.11,"i":0},
{"p":10,"id":15,"a":0,"b":0.07,"c":0.22,"d":0.37,"e":0.44,"f":0.37,"g":0.22,"h":0.07,"i":0},
{"p":10,"id":16,"a":0,"b":0.13,"c":0.33,"d":0.41,"e":0.42,"f":0.41,"g":0.33,"h":0.13,"i":0},
{"p":10,"id":17,"a":0,"b":0.05,"c":0.18,"d":0.31,"e":0.36,"f":0.31,"g":0.18,"h":0.05,"i":0},
{"p":10,"id":18,"a":0,"b":0.02,"c":0.11,"d":0.25,"e":0.31,"f":0.25,"g":0.11,"h":0.02,"i":0},
{"p":10,"id":19,"a":0,"b":0.04,"c":0.11,"d":0.16,"e":0.17,"f":0.16,"g":0.11,"h":0.04,"i":0},
{"p":10,"id":20,"a":0,"b":0.04,"c":0.08,"d":0.09,"e":0.09,"f":0.09,"g":0.08,"h":0.04,"i":0},
{"p":10,"id":21,"a":0,"b":0,"c":0,"d":0,"e":0,"f":0,"g":0,"h":0,"i":0},
{"p":10,"id":22,"a":0,"b":-0.08,"c":0.02,"d":0.05,"e":0.06,"f":0.05,"g":0.02,"h":-0.06,"i":0},
{"p":10,"id":23,"a":0,"b":0.08,"c":0.28,"d":0.47,"e":0.55,"f":0.47,"g":0.28,"h":0.08,"i":0},
{"p":10,"id":24,"a":0,"b":0.06,"c":0.38,"d":0.84,"e":1.05,"f":0.84,"g":0.38,"h":0.06,"i":0},
{"p":10,"id":25,"a":0,"b":0.05,"c":0.28,"d":0.62,"e":0.78,"f":0.62,"g":0.28,"h":0.05,"i":0},
{"p":10,"id":26,"a":0,"b":0.15,"c":0.40,"d":0.58,"e":0.62,"f":0.58,"g":0.40,"h":0.15,"i":0},
{"p":10,"id":27,"a":0,"b":0.14,"c":0.47,"d":0.79,"e":0.93,"f":0.79,"g":0.47,"h":0.14,"i":0},
{"p":10,"id":28,"a":0,"b":0.03,"c":0.18,"d":0.40,"e":0.50,"f":0.40,"g":0.18,"h":0.03,"i":0},

{"p":11,"id":1,"a":0,"b":2.6,"c":4.5,"d":5,"e":5,"f":5,"g":4,"h":1.6,"i":0},
{"p":11,"id":2,"a":0,"b":1.1,"c":3.2,"d":4.5,"e":4.5,"f":4.5,"g":3.8,"h":2.2,"i":0},
{"p":11,"id":3,"a":0,"b":0.8,"c":2.6,"d":3.5,"e":3.6,"f":3.0,"g":2.0,"h":0.7,"i":0},
{"p":11,"id":4,"a":0,"b":0.41,"c":1.09,"d":1.59,"e":1.71,"f":1.59,"g":1.09,"h":0.41,"i":0},
{"p":11,"id":5,"a":0,"b":0.25,"c":0.83,"d":1.40,"e":1.65,"f":1.40,"g":0.83,"h":0.25,"i":0},
{"p":11,"id":6,"a":0,"b":0.17,"c":0.58,"d":0.99,"e":1.16,"f":0.99,"g":0.58,"h":0.17,"i":0},
{"p":11,"id":7,"a":0,"b":0.25,"c":0.67,"d":0.98,"e":1.05,"f":0.98,"g":0.67,"h":0.25,"i":0},
{"p":11,"id":8,"a":0,"b":0.14,"c":0.48,"d":0.81,"e":0.95,"f":0.81,"g":0.48,"h":0.14,"i":0},
{"p":11,"id":9,"a":0,"b":0.05,"c":0.29,"d":0.64,"e":0.80,"f":0.64,"g":0.29,"h":0.05,"i":0},
{"p":11,"id":10,"a":0,"b":0.12,"c":0.39,"d":0.65,"e":0.77,"f":0.65,"g":0.39,"h":0.12,"i":0},
{"p":11,"id":11,"a":0,"b":0.15,"c":0.41,"d":0.60,"e":0.64,"f":0.60,"g":0.41,"h":0.15,"i":0},
{"p":11,"id":12,"a":0,"b":0.09,"c":0.31,"d":0.52,"e":0.61,"f":0.52,"g":0.31,"h":0.09,"i":0},
{"p":11,"id":13,"a":0,"b":0.03,"c":0.21,"d":0.46,"e":0.57,"f":0.46,"g":0.21,"h":0.03,"i":0},
{"p":11,"id":14,"a":0,"b":0.08,"c":0.27,"d":0.45,"e":0.53,"f":0.45,"g":0.27,"h":0.08,"i":0},
{"p":11,"id":15,"a":0,"b":0.12,"c":0.31,"d":0.46,"e":0.49,"f":0.46,"g":0.31,"h":0.12,"i":0},
{"p":11,"id":16,"a":0,"b":0.07,"c":0.22,"d":0.37,"e":0.44,"f":0.37,"g":0.22,"h":0.07,"i":0},
{"p":11,"id":17,"a":0,"b":0.02,"c":0.13,"d":0.29,"e":0.36,"f":0.29,"g":0.13,"h":0.02,"i":0},
{"p":11,"id":18,"a":0,"b":0.05,"c":0.17,"d":0.28,"e":0.33,"f":0.28,"g":0.17,"h":0.05,"i":0},
{"p":11,"id":19,"a":0,"b":0.07,"c":0.20,"d":0.29,"e":0.31,"f":0.29,"g":0.20,"h":0.07,"i":0},
{"p":11,"id":20,"a":0,"b":0.04,"c":0.13,"d":0.21,"e":0.25,"f":0.21,"g":0.13,"h":0.04,"i":0},
{"p":11,"id":21,"a":0,"b":0.03,"c":0.09,"d":0.13,"e":0.14,"f":0.13,"g":0.09,"h":0.03,"i":0.05},
{"p":11,"id":22,"a":0,"b":0.02,"c":0.06,"d":0.08,"e":0.09,"f":0.08,"g":0.07,"h":0.05,"i":0.06},
{"p":11,"id":23,"a":0,"b":-0.05,"c":-0.3,"d":0.1,"e":0.55,"f":0.5,"g":0.2,"h":0.02,"i":0},
{"p":11,"id":24,"a":0,"b":0.11,"c":0.36,"d":0.61,"e":0.72,"f":0.61,"g":0.36,"h":0.11,"i":0},
{"p":11,"id":25,"a":0,"b":0.04,"c":0.24,"d":0.54,"e":0.68,"f":0.54,"g":0.24,"h":0.04,"i":0},
{"p":11,"id":26,"a":0,"b":0.14,"c":0.37,"d":0.54,"e":0.58,"f":0.54,"g":0.37,"h":0.14,"i":0},
{"p":11,"id":27,"a":0,"b":0.07,"c":0.25,"d":0.42,"e":0.50,"f":0.42,"g":0.25,"h":0.07,"i":0},
{"p":11,"id":28,"a":0,"b":0.10,"c":0.26,"d":0.37,"e":0.40,"f":0.37,"g":0.26,"h":0.10,"i":0},

{"p":12,"id":1,"a":0,"b":1.8,"c":3.5,"d":4,"e":4,"f":4,"g":3.2,"h":1.3,"i":0},
{"p":12,"id":2,"a":0,"b":1.0,"c":2.8,"d":3.5,"e":3.6,"f":3.5,"g":2.3,"h":0.8,"i":0},
{"p":12,"id":3,"a":0,"b":0.39,"c":1.04,"d":1.51,"e":1.62,"f":1.51,"g":1.04,"h":0.39,"i":0},
{"p":12,"id":4,"a":0,"b":0.24,"c":0.80,"d":1.36,"e":1.60,"f":1.36,"g":0.80,"h":0.24,"i":0},
{"p":12,"id":5,"a":0,"b":0.38,"c":1.0,"d":1.46,"e":1.57,"f":1.46,"g":1.0,"h":0.38,"i":0},
{"p":12,"id":6,"a":0,"b":0.20,"c":0.70,"d":1.25,"e":1.49,"f":1.30,"g":0.85,"h":0.25,"i":0},
{"p":12,"id":7,"a":0,"b":0.09,"c":0.53,"d":1.17,"e":1.46,"f":1.17,"g":0.53,"h":0.09,"i":0},
{"p":12,"id":8,"a":0,"b":0.17,"c":0.57,"d":0.97,"e":1.14,"f":0.97,"g":0.57,"h":0.17,"i":0},
{"p":12,"id":9,"a":0,"b":0.27,"c":0.72,"d":1.04,"e":1.12,"f":1.04,"g":0.72,"h":0.27,"i":0},
{"p":12,"id":10,"a":0,"b":0.16,"c":0.54,"d":0.92,"e":1.08,"f":0.92,"g":0.54,"h":0.16,"i":0},
{"p":12,"id":11,"a":0,"b":0.06,"c":0.34,"d":0.75,"e":0.94,"f":0.75,"g":0.34,"h":0.06,"i":0},
{"p":12,"id":12,"a":0,"b":0.22,"c":0.58,"d":0.85,"e":0.91,"f":0.85,"g":0.58,"h":0.22,"i":0},
{"p":12,"id":13,"a":0,"b":0.12,"c":0.40,"d":0.68,"e":0.80,"f":0.68,"g":0.40,"h":0.12,"i":0},
{"p":12,"id":14,"a":0,"b":0.18,"c":0.49,"d":0.72,"e":0.77,"f":0.72,"g":0.49,"h":0.18,"i":0},
{"p":12,"id":15,"a":0,"b":0.11,"c":0.38,"d":0.64,"e":0.75,"f":0.64,"g":0.38,"h":0.11,"i":0},
{"p":12,"id":16,"a":0,"b":0.15,"c":0.39,"d":0.57,"e":0.61,"f":0.57,"g":0.39,"h":0.15,"i":0},
{"p":12,"id":17,"a":0,"b":0.09,"c":0.29,"d":0.48,"e":0.57,"f":0.48,"g":0.29,"h":0.09,"i":0},
{"p":12,"id":18,"a":0,"b":0.03,"c":0.19,"d":0.42,"e":0.53,"f":0.42,"g":0.19,"h":0.03,"i":0},
{"p":12,"id":19,"a":0,"b":0,"c":0.06,"d":0.27,"e":0.43,"f":0.27,"g":0.06,"h":0,"i":0},
{"p":12,"id":20,"a":0,"b":0.12,"c":0.30,"d":0.35,"e":0.36,"f":0.36,"g":0.30,"h":0.15,"i":0.02},
{"p":12,"id":21,"a":0,"b":0.06,"c":0.12,"d":0.14,"e":0.14,"f":0.12,"g":0.09,"h":0.05,"i":0.06},
{"p":12,"id":22,"a":0,"b":0.02,"c":0.06,"d":0.08,"e":0.09,"f":0.08,"g":0.06,"h":0.03,"i":0},
{"p":12,"id":23,"a":0,"b":0,"c":0.01,"d":0.01,"e":0.01,"f":0.01,"g":0.01,"h":0,"i":0},
{"p":12,"id":24,"a":0,"b":0.10,"c":0.33,"d":0.55,"e":0.65,"f":0.55,"g":0.33,"h":0.06,"i":-0.06},
{"p":12,"id":25,"a":0,"b":0.05,"c":0.31,"d":0.68,"e":0.85,"f":0.68,"g":0.31,"h":0.05,"i":0},
{"p":12,"id":26,"a":0,"b":0.13,"c":0.44,"d":0.75,"e":0.88,"f":0.75,"g":0.44,"h":0.13,"i":0},
{"p":12,"id":27,"a":0,"b":0.17,"c":0.45,"d":0.65,"e":0.70,"f":0.65,"g":0.45,"h":0.17,"i":0},
{"p":12,"id":28,"a":0,"b":0.07,"c":0.25,"d":0.42,"e":0.50,"f":0.42,"g":0.25,"h":0.07,"i":0},
{"p":12,"id":29,"a":0,"b":0.06,"c":0.36,"d":0.80,"e":1.0,"f":0.80,"g":0.36,"h":0.06,"i":0}
]
},
"data":{"name":"curves"},
"transform":[
{"fold":["a","b","c","d","e","f","g","h","i"],"as":["k","y"]},
{"lookup":"k","from":{"data":{"name":"xs"},"key":"k","fields":["x"]}}
],
"spacing":37,
"vconcat":[
{"spacing":9,"vconcat":[
{"spacing":28,"bounds":"flush","hconcat":[
{"width":291,"height":257,"title":{"text":"MACE-MP(M)","offset":-5},"layer":[
{"transform":[{"filter":"datum.p == 1"}],"mark":{"type":"line","interpolate":"monotone","clip":true,"color":"#636EFA"},
"encoding":{"x":{"field":"x","type":"quantitative","scale":{"domain":[-0.05,1.05],"nice":false,"zero":false},"axis":{"values":[0,0.5,1],"labels":false,"title":null}},
"y":{"field":"y","type":"quantitative","scale":{"domain":[-0.11,2],"nice":false,"zero":false},"axis":{"values":[0,0.5,1,1.5,2],"format":".1f","title":"Normalized energy"}},
"detail":{"field":"id","type":"nominal"}}},
{"data":{"name":"ann"},"transform":[{"filter":"datum.p == 1"}],"mark":{"type":"text"},"encoding":{"x":{"datum":0.01},"y":{"datum":1.89},"text":{"field":"t"}}}]},
{"width":291,"height":257,"title":{"text":"MatterSim","offset":6},"layer":[
{"transform":[{"filter":"datum.p == 2"}],"mark":{"type":"line","interpolate":"monotone","clip":true,"color":"#EF553B"},
"encoding":{"x":{"field":"x","type":"quantitative","scale":{"domain":[-0.05,1.05],"nice":false,"zero":false},"axis":{"values":[0,0.5,1],"labels":false,"title":null}},
"y":{"field":"y","type":"quantitative","scale":{"domain":[-0.11,2],"nice":false,"zero":false},"axis":{"values":[0,0.5,1,1.5,2],"labels":false,"title":null}},
"detail":{"field":"id","type":"nominal"}}},
{"data":{"name":"ann"},"transform":[{"filter":"datum.p == 2"}],"mark":{"type":"text"},"encoding":{"x":{"datum":0.01},"y":{"datum":1.89},"text":{"field":"t"}}}]},
{"width":291,"height":257,"title":{"text":"ORBv2","offset":6},"layer":[
{"transform":[{"filter":"datum.p == 3"}],"mark":{"type":"line","interpolate":"monotone","clip":true,"color":"#00CC96"},
"encoding":{"x":{"field":"x","type":"quantitative","scale":{"domain":[-0.05,1.05],"nice":false,"zero":false},"axis":{"values":[0,0.5,1],"labels":false,"title":null}},
"y":{"field":"y","type":"quantitative","scale":{"domain":[-0.11,2],"nice":false,"zero":false},"axis":{"values":[0,0.5,1,1.5,2],"labels":false,"title":null}},
"detail":{"field":"id","type":"nominal"}}},
{"data":{"name":"ann"},"transform":[{"filter":"datum.p == 3"}],"mark":{"type":"text"},"encoding":{"x":{"datum":0.01},"y":{"datum":1.89},"text":{"field":"t"}}}]}
]},
{"spacing":28,"bounds":"flush","hconcat":[
{"width":291,"height":257,"title":{"text":"M3GNet","offset":-5},"layer":[
{"transform":[{"filter":"datum.p == 4"}],"mark":{"type":"line","interpolate":"monotone","clip":true,"color":"#AB63FA"},
"encoding":{"x":{"field":"x","type":"quantitative","scale":{"domain":[-0.05,1.05],"nice":false,"zero":false},"axis":{"values":[0,0.5,1],"format":".1f","title":"Normalized path"}},
"y":{"field":"y","type":"quantitative","scale":{"domain":[-0.11,2],"nice":false,"zero":false},"axis":{"values":[0,0.5,1,1.5,2],"format":".1f","title":"Normalized energy"}},
"detail":{"field":"id","type":"nominal"}}},
{"data":{"name":"ann"},"transform":[{"filter":"datum.p == 4"}],"mark":{"type":"text"},"encoding":{"x":{"datum":0.01},"y":{"datum":1.89},"text":{"field":"t"}}}]},
{"width":291,"height":257,"title":{"text":"CHGNet","offset":6},"layer":[
{"transform":[{"filter":"datum.p == 5"}],"mark":{"type":"line","interpolate":"monotone","clip":true,"color":"#FFA15A"},
"encoding":{"x":{"field":"x","type":"quantitative","scale":{"domain":[-0.05,1.05],"nice":false,"zero":false},"axis":{"values":[0,0.5,1],"format":".1f","title":"Normalized path"}},
"y":{"field":"y","type":"quantitative","scale":{"domain":[-0.11,2],"nice":false,"zero":false},"axis":{"values":[0,0.5,1,1.5,2],"labels":false,"title":null}},
"detail":{"field":"id","type":"nominal"}}},
{"data":{"name":"ann"},"transform":[{"filter":"datum.p == 5"}],"mark":{"type":"text"},"encoding":{"x":{"datum":0.01},"y":{"datum":1.89},"text":{"field":"t"}}}]},
{"width":291,"height":257,"title":{"text":"SevenNet","offset":6},"layer":[
{"transform":[{"filter":"datum.p == 6"}],"mark":{"type":"line","interpolate":"monotone","clip":true,"color":"#19D3F3"},
"encoding":{"x":{"field":"x","type":"quantitative","scale":{"domain":[-0.05,1.05],"nice":false,"zero":false},"axis":{"values":[0,0.5,1],"format":".1f","title":"Normalized path"}},
"y":{"field":"y","type":"quantitative","scale":{"domain":[-0.11,2],"nice":false,"zero":false},"axis":{"values":[0,0.5,1,1.5,2],"labels":false,"title":null}},
"detail":{"field":"id","type":"nominal"}}},
{"data":{"name":"ann"},"transform":[{"filter":"datum.p == 6"}],"mark":{"type":"text"},"encoding":{"x":{"datum":0.01},"y":{"datum":1.89},"text":{"field":"t"}}}]}
]}
]},
{"spacing":9,"vconcat":[
{"spacing":28,"bounds":"flush","hconcat":[
{"width":291,"height":257,"title":{"text":"MACE-MP(M)","offset":-5},"layer":[
{"transform":[{"filter":"datum.p == 7"}],"mark":{"type":"line","interpolate":"monotone","clip":true,"color":"#636EFA"},
"encoding":{"x":{"field":"x","type":"quantitative","scale":{"domain":[-0.05,1.05],"nice":false,"zero":false},"axis":{"values":[0,0.5,1],"labels":false,"title":null}},
"y":{"field":"y","type":"quantitative","scale":{"domain":[-0.11,2],"nice":false,"zero":false},"axis":{"values":[0,0.5,1,1.5,2],"format":".1f","title":"Normalized energy"}},
"detail":{"field":"id","type":"nominal"}}},
{"data":{"name":"ann"},"transform":[{"filter":"datum.p == 7"}],"mark":{"type":"text"},"encoding":{"x":{"datum":0.01},"y":{"datum":1.89},"text":{"field":"t"}}}]},
{"width":291,"height":257,"title":{"text":"MatterSim","offset":6},"layer":[
{"transform":[{"filter":"datum.p == 8"}],"mark":{"type":"line","interpolate":"monotone","clip":true,"color":"#EF553B"},
"encoding":{"x":{"field":"x","type":"quantitative","scale":{"domain":[-0.05,1.05],"nice":false,"zero":false},"axis":{"values":[0,0.5,1],"labels":false,"title":null}},
"y":{"field":"y","type":"quantitative","scale":{"domain":[-0.11,2],"nice":false,"zero":false},"axis":{"values":[0,0.5,1,1.5,2],"labels":false,"title":null}},
"detail":{"field":"id","type":"nominal"}}},
{"data":{"name":"ann"},"transform":[{"filter":"datum.p == 8"}],"mark":{"type":"text"},"encoding":{"x":{"datum":0.01},"y":{"datum":1.89},"text":{"field":"t"}}}]},
{"width":291,"height":257,"title":{"text":"ORBv2","offset":6},"layer":[
{"transform":[{"filter":"datum.p == 9"}],"mark":{"type":"line","interpolate":"monotone","clip":true,"color":"#00CC96"},
"encoding":{"x":{"field":"x","type":"quantitative","scale":{"domain":[-0.05,1.05],"nice":false,"zero":false},"axis":{"values":[0,0.5,1],"labels":false,"title":null}},
"y":{"field":"y","type":"quantitative","scale":{"domain":[-0.11,2],"nice":false,"zero":false},"axis":{"values":[0,0.5,1,1.5,2],"labels":false,"title":null}},
"detail":{"field":"id","type":"nominal"}}},
{"data":{"name":"ann"},"transform":[{"filter":"datum.p == 9"}],"mark":{"type":"text"},"encoding":{"x":{"datum":0.01},"y":{"datum":1.89},"text":{"field":"t"}}}]}
]},
{"spacing":28,"bounds":"flush","hconcat":[
{"width":291,"height":257,"title":{"text":"M3GNet","offset":-5},"layer":[
{"transform":[{"filter":"datum.p == 10"}],"mark":{"type":"line","interpolate":"monotone","clip":true,"color":"#AB63FA"},
"encoding":{"x":{"field":"x","type":"quantitative","scale":{"domain":[-0.05,1.05],"nice":false,"zero":false},"axis":{"values":[0,0.5,1],"format":".1f","title":"Normalized path"}},
"y":{"field":"y","type":"quantitative","scale":{"domain":[-0.11,2],"nice":false,"zero":false},"axis":{"values":[0,0.5,1,1.5,2],"format":".1f","title":"Normalized energy"}},
"detail":{"field":"id","type":"nominal"}}},
{"data":{"name":"ann"},"transform":[{"filter":"datum.p == 10"}],"mark":{"type":"text"},"encoding":{"x":{"datum":0.01},"y":{"datum":1.89},"text":{"field":"t"}}}]},
{"width":291,"height":257,"title":{"text":"CHGNet","offset":6},"layer":[
{"transform":[{"filter":"datum.p == 11"}],"mark":{"type":"line","interpolate":"monotone","clip":true,"color":"#FFA15A"},
"encoding":{"x":{"field":"x","type":"quantitative","scale":{"domain":[-0.05,1.05],"nice":false,"zero":false},"axis":{"values":[0,0.5,1],"format":".1f","title":"Normalized path"}},
"y":{"field":"y","type":"quantitative","scale":{"domain":[-0.11,2],"nice":false,"zero":false},"axis":{"values":[0,0.5,1,1.5,2],"labels":false,"title":null}},
"detail":{"field":"id","type":"nominal"}}},
{"data":{"name":"ann"},"transform":[{"filter":"datum.p == 11"}],"mark":{"type":"text"},"encoding":{"x":{"datum":0.01},"y":{"datum":1.89},"text":{"field":"t"}}}]},
{"width":291,"height":257,"title":{"text":"SevenNet","offset":6},"layer":[
{"transform":[{"filter":"datum.p == 12"}],"mark":{"type":"line","interpolate":"monotone","clip":true,"color":"#19D3F3"},
"encoding":{"x":{"field":"x","type":"quantitative","scale":{"domain":[-0.05,1.05],"nice":false,"zero":false},"axis":{"values":[0,0.5,1],"format":".1f","title":"Normalized path"}},
"y":{"field":"y","type":"quantitative","scale":{"domain":[-0.11,2],"nice":false,"zero":false},"axis":{"values":[0,0.5,1,1.5,2],"labels":false,"title":null}},
"detail":{"field":"id","type":"nominal"}}},
{"data":{"name":"ann"},"transform":[{"filter":"datum.p == 12"}],"mark":{"type":"text"},"encoding":{"x":{"datum":0.01},"y":{"datum":1.89},"text":{"field":"t"}}}]}
]}
]}
],
"config":{
"font":"DejaVu Sans",
"view":{"stroke":"black","strokeWidth":1.6},
"axis":{"domain":false,"grid":false,"ticks":true,"tickColor":"black","tickSize":8,"tickWidth":1.5,"labelFont":"DejaVu Sans","labelFontSize":23.5,"labelColor":"black","labelPadding":5,"labelFlush":false,"labelOverlap":false,"titleFont":"DejaVu Sans","titleFontSize":23.7,"titleFontWeight":"normal","titleColor":"black"},
"axisX":{"titlePadding":9},
"axisY":{"titlePadding":14},
"title":{"font":"DejaVu Sans","fontSize":29,"fontWeight":"normal","color":"black"},
"line":{"strokeWidth":3,"opacity":0.55},
"text":{"font":"DejaVu Sans","fontSize":20,"lineHeight":22.5,"align":"left","baseline":"top","color":"black","lineBreak":"\n"}
}
}
